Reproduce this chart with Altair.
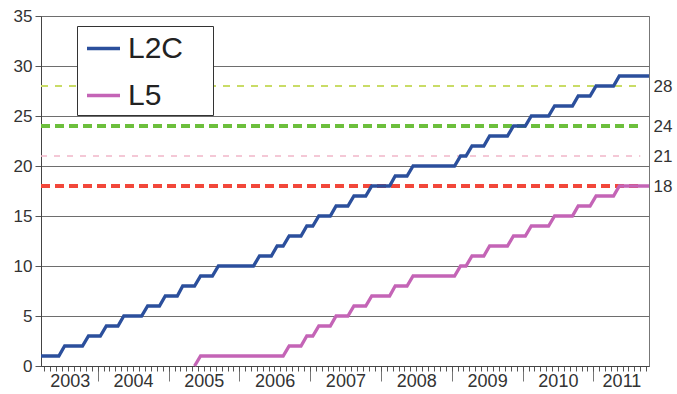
import altair as alt
import pandas as pd

# ---------------- data ----------------
# monthly points (mid-month), March 2003 .. October 2011
months = [d.strftime("%Y-%m-15") for d in pd.date_range("2003-03-01", "2011-10-01", freq="MS")]

l2c = [1, 1, 1, 1, 2, 2, 2, 2, 3, 3, 3, 4, 4, 4, 5, 5, 5, 5, 6, 6, 6, 7, 7, 7, 8, 8, 8,
       9, 9, 9, 10, 10, 10, 10, 10, 10, 10, 11, 11, 11, 12, 12, 13, 13, 13, 14, 14,
       15, 15, 15, 16, 16, 16, 17, 17, 17, 18, 18, 18, 18, 19, 19, 19,
       20, 20, 20, 20, 20, 20, 20, 20, 21, 21, 22, 22, 22, 23, 23, 23, 23,
       24, 24, 24, 25, 25, 25, 25, 26, 26, 26, 26, 27, 27, 27, 28, 28, 28, 28,
       29, 29, 29, 29, 29, 29]

l5 = [None] * 26 + [0] + [1] * 15 + [2, 2, 2, 3, 3, 4, 4, 4, 5, 5, 5, 6, 6, 6, 7, 7, 7, 7,
       8, 8, 8, 9, 9, 9, 9, 9, 9, 9, 9, 10, 10, 11, 11, 11, 12, 12, 12, 12,
       13, 13, 13, 14, 14, 14, 14, 15, 15, 15, 15, 16, 16, 16, 17, 17, 17, 17,
       18, 18, 18, 18, 18, 18]

series_names = ["L2C", "L5"]
series_colors = ["#2b4f9c", "#c464b6"]

ref_levels = [28, 24, 21, 18]
ref_colors = ["#c9dc66", "#6cbf3c", "#f1b6c9", "#f2473a"]
ref_widths = [2, 4, 1.5, 4]
ref_dashes = [[7, 7], [9, 5], [6, 7], [9, 5]]
ref_start = "2003-03-15"
ref_end = "2011-08-31"

year_label_pos = ["2003-08-10", "2004-07-02", "2005-07-02", "2006-07-02", "2007-07-02",
                  "2008-07-02", "2009-07-02", "2010-07-02", "2011-05-26"]
year_bounds = ["2004-01-01", "2005-01-01", "2006-01-01", "2007-01-01", "2008-01-01",
               "2009-01-01", "2010-01-01", "2011-01-01"]
month_ticks = [d.strftime("%Y-%m-%d") for d in pd.date_range("2003-04-01", "2011-10-01", freq="MS")]


def ms(s):
    return int(pd.Timestamp(s).value // 10**6)


rows = []
for name, vals in zip(series_names, [l2c, l5]):
    for d, v in zip(months, vals):
        if v is not None:
            rows.append({"date": d, "value": v, "series": name})
df = pd.DataFrame(rows)

FONT = "Liberation Sans"
x_scale = alt.Scale(type="utc", domain=[ms(months[0]), ms(months[-1])])
y_scale = alt.Scale(domain=[0, 35], nice=False, zero=True)

minor_axis = alt.Axis(orient="bottom", values=[ms(m) for m in month_ticks], labels=False,
                      tickSize=5, tickColor="#555", domainColor="#444", grid=False, title=None)
label_axis = alt.Axis(orient="bottom", values=[ms(m) for m in year_label_pos], ticks=False,
                      domain=False, grid=False, title=None,
                      labelExpr="utcFormat(datum.value, '%Y')", labelFontSize=18,
                      labelFont=FONT, labelColor="#333", labelPadding=6,
                      labelFlush=False, labelOverlap=False)
major_axis = alt.Axis(orient="bottom", values=[ms(m) for m in year_bounds], labels=False,
                      domain=False, grid=False, title=None, tickSize=15, tickColor="#777")
left_axis = alt.Axis(orient="left", values=list(range(0, 36, 5)), grid=True,
                     gridColor="#6e6e6e", gridWidth=1, tickSize=6, tickColor="#555",
                     domainColor="#444", labelFontSize=17, labelFont=FONT,
                     labelColor="#333", labelPadding=3, title=None)
right_axis = alt.Axis(orient="right", values=ref_levels, ticks=False, domain=False,
                      grid=False, labelFontSize=17, labelFont=FONT, labelColor="#333",
                      labelPadding=4, title=None)

layers = []
for k in range(4):
    rdf = pd.DataFrame({"level": [ref_levels[k]], "start": [ref_start], "end": [ref_end]})
    xa = None
    ya = None
    if k == 0:
        xa = major_axis
    if k == 1:
        xa = label_axis
        ya = right_axis
    layers.append(
        alt.Chart(rdf).mark_rule(color=ref_colors[k], strokeWidth=ref_widths[k],
                                 strokeDash=ref_dashes[k]).encode(
            x=alt.X("start:T", scale=x_scale, axis=xa),
            x2="end:T",
            y=alt.Y("level:Q", scale=y_scale, axis=ya),
        )
    )

lines = alt.Chart(df).mark_line(strokeWidth=3.3).encode(
    x=alt.X("date:T", scale=x_scale, axis=minor_axis),
    y=alt.Y("value:Q", scale=y_scale, axis=left_axis),
    color=alt.Color("series:N", scale=alt.Scale(domain=series_names, range=series_colors),
                    legend=alt.Legend(orient="none", legendX=36, legendY=10, title=" ",
                                      titleOrient="right", titleFontSize=1, titlePadding=26,
                                      symbolType="stroke", symbolSize=1089,
                                      symbolStrokeWidth=3.5, symbolOffset=4,
                                      labelFontSize=30,
                                      labelFont=FONT, labelColor="#222", labelOffset=6,
                                      rowPadding=13, padding=4, strokeColor="#333",
                                      fillColor="white")),
)
layers.append(lines)

chart = alt.layer(*layers).resolve_axis(x="independent", y="independent").properties(
    width=608, height=350,
    padding={"left": 41, "top": 16, "right": 28, "bottom": 28},
    autosize=alt.AutoSizeParams(type="none"),
    background="white",
).configure_view(stroke="#777", strokeWidth=1)

chart.save("out.html", embed_options={"renderer": "svg", "actions": False})
